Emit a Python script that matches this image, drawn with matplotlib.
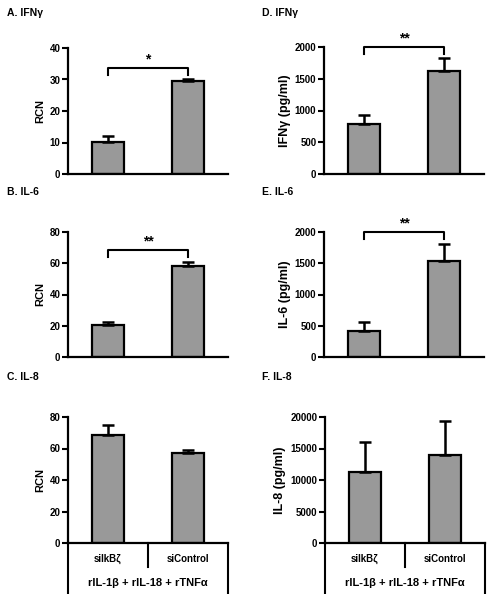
import matplotlib.pyplot as plt

plt.rcParams["font.family"] = ["Liberation Sans", "DejaVu Sans"]
plt.rcParams["font.weight"] = "bold"

groups = ["siIkBζ", "siControl"]
treatment = "rIL-1β + rIL-18 + rTNFα"

titles = ["A. IFNγ", "B. IL-6", "C. IL-8", "D. IFNγ", "E. IL-6", "F. IL-8"]
ylabels = ["RCN", "RCN", "RCN", "IFNγ (pg/ml)", "IL-6 (pg/ml)", "IL-8 (pg/ml)"]

means = [
    [10.2, 29.5],
    [20.5, 58.5],
    [68.5, 57.0],
    [790, 1620],
    [420, 1530],
    [11300, 13900],
]
errors = [
    [1.8, 0.8],
    [2.0, 2.0],
    [6.5, 2.0],
    [140, 200],
    [140, 280],
    [4700, 5500],
]
ymax = [40, 80, 80, 2000, 2000, 20000]
ystep = [10, 20, 20, 500, 500, 5000]
signif = ["*", "**", None, "**", "**", None]
bracket = [(33.6, 31.5), (68.5, 64.0), None, (2000, 1890), (2000, 1890), None]

W, H = 488, 594
fig = plt.figure(figsize=(W / 100, H / 100), dpi=100)

# pixel boxes: left, top, bottom
boxes = [
    (68, 48, 174),
    (68, 232, 357),
    (68, 417, 543),
    (324, 47, 174),
    (324, 232, 357),
    (325, 417, 543),
]
title_pos = [(7, 13), (7, 192), (7, 377), (262, 13), (262, 192), (262, 377)]

for i in range(6):
    left, top, bottom = boxes[i]
    ax = fig.add_axes([left / W, (H - bottom) / H, 160 / W, (bottom - top) / H])
    x = [0.5, 1.5]
    ax.bar(x, means[i], width=0.41, color="#999999", edgecolor="black",
           linewidth=1.6, zorder=2)
    ax.errorbar(x, means[i], yerr=[[0, 0], errors[i]], fmt="none",
                ecolor="black", elinewidth=1.8, capsize=4, capthick=1.8,
                zorder=3)
    ax.set_xlim(0, 2)
    ax.set_ylim(0, ymax[i])
    ax.set_yticks(range(0, ymax[i] + 1, ystep[i]))
    ax.tick_params(axis="y", direction="out", length=4, width=1.5,
                   labelsize=7, pad=1.5)
    ax.tick_params(axis="x", length=0, labelbottom=False)
    for s in ["top", "right"]:
        ax.spines[s].set_visible(False)
    for s in ["left", "bottom"]:
        ax.spines[s].set_linewidth(1.6)
    ax.set_ylabel(ylabels[i], fontsize=9 if i >= 3 else 8, fontweight="bold",
                  labelpad=3)
    fig.text(title_pos[i][0] / W, 1 - title_pos[i][1] / H, titles[i],
             fontsize=7.5, fontweight="bold", va="center", ha="left")

    if bracket[i] is not None:
        yb, yd = bracket[i]
        ax.plot([0.5, 0.5, 1.5, 1.5], [yd, yb, yb, yd], color="black",
                linewidth=1.5, clip_on=False)
        ax.text(1.0, yb + ymax[i] * 0.012, signif[i], ha="center",
                va="bottom", fontsize=10, fontweight="bold")

    if i in (2, 5):
        h = bottom - top
        ax.plot([0, 0], [0, -52 / h], transform=ax.transAxes, color="black",
                linewidth=1.5, clip_on=False)
        ax.plot([1, 1], [0, -52 / h], transform=ax.transAxes, color="black",
                linewidth=1.5, clip_on=False)
        ax.plot([0.5, 0.5], [0, -24 / h], transform=ax.transAxes,
                color="black", linewidth=1.5, clip_on=False)
        for j, g in enumerate(groups):
            ax.text(0.25 + 0.5 * j, -16 / h, g, transform=ax.transAxes,
                    ha="center", va="center", fontsize=7, fontweight="bold")
        ax.text(0.5, -40 / h, treatment, transform=ax.transAxes,
                ha="center", va="center", fontsize=8, fontweight="bold")

fig.savefig("out.png", dpi=100)
